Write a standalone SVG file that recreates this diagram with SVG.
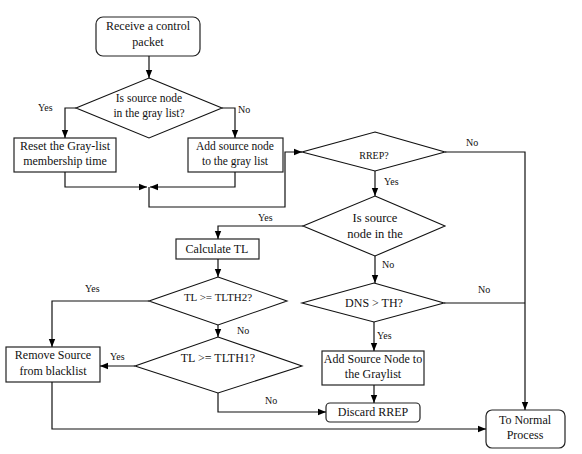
<svg xmlns="http://www.w3.org/2000/svg" width="582" height="454" viewBox="0 0 582 454">
<style>
.bg{fill:#fff}
.box{fill:#fff;stroke:#222;stroke-width:1.2}
.dia{fill:#fff;stroke:#111;stroke-width:1.1}
.t{font-family:"Liberation Serif",serif;font-size:12px;fill:#111;text-anchor:middle}
.s{font-size:11.5px}
.lbl{font-family:"Liberation Serif",serif;font-size:10px;fill:#111}
.c path{fill:none;stroke:#111;stroke-width:1.2}
</style>
<defs>
<marker id="ah" viewBox="0 0 10 10" refX="10" refY="5" markerWidth="8" markerHeight="8" markerUnits="userSpaceOnUse" orient="auto">
<path d="M0,1 L10,5 L0,9 z" fill="#000"/>
</marker>
</defs>
<rect class="bg" x="0" y="0" width="582" height="454"/>
<g id="n1"><rect class="box" x="96" y="17" width="104" height="39" rx="7"/><text class="t" x="148" y="30">Receive a control</text><text class="t" x="148" y="46">packet</text></g>
<g id="d1"><polygon class="dia" points="149,78 222,108 149,138 76,108"/><text class="t s" x="149" y="102">Is source node</text><text class="t s" x="149" y="117">in the gray list?</text></g>
<g id="n2"><rect class="box" x="14" y="138" width="102" height="34"/><text class="t" x="65" y="150">Reset the Gray-list</text><text class="t" x="65" y="165">membership time</text></g>
<g id="n3"><rect class="box" x="188" y="138" width="95" height="34"/><text class="t s" x="235" y="150">Add source node</text><text class="t s" x="235" y="165">to the gray list</text></g>
<g id="d2"><polygon class="dia" points="375,132 445,152 375,171 302,152"/><text class="t" style="font-size:10px" x="374" y="159">RREP?</text></g>
<g id="d3"><polygon class="dia" points="375,196 445,226 375,256 303,226"/><text class="t" style="font-size:12.5px" x="375" y="222">Is source</text><text class="t" style="font-size:12.5px" x="375" y="238">node in the</text></g>
<g id="n4"><rect class="box" x="176" y="239" width="83" height="20"/><text class="t" x="217" y="253">Calculate TL</text></g>
<g id="d4"><polygon class="dia" points="218,277 287,301 218,325 149,301"/><text class="t" style="font-size:11px" x="218" y="301">TL &gt;= TLTH2?</text></g>
<g id="d5"><polygon class="dia" points="218,337 302,366 218,393 135,366"/><text class="t" x="218" y="362">TL &gt;= TLTH1?</text></g>
<g id="n5"><rect class="box" x="6" y="347" width="94" height="35"/><text class="t" x="53" y="359">Remove Source</text><text class="t" x="53" y="375">from blacklist</text></g>
<g id="d6"><polygon class="dia" points="374,283 444,303 374,322 302,303"/><text class="t" x="374" y="307">DNS &gt; TH?</text></g>
<g id="n6"><rect class="box" x="322" y="351" width="102" height="34"/><text class="t" x="373" y="363">Add Source Node to</text><text class="t" x="373" y="378">the Graylist</text></g>
<g id="n7"><rect class="box" x="326" y="403" width="94" height="19" rx="4"/><text class="t" x="373" y="416">Discard RREP</text></g>
<g id="n8"><rect class="box" x="486" y="410" width="79" height="38" rx="6"/><text class="t" x="525" y="424">To Normal</text><text class="t" x="525" y="439">Process</text></g>
<g id="connectors" class="c">
<path d="M149,56 V78" marker-end="url(#ah)"/>
<path d="M76,108 H65 V138" marker-end="url(#ah)"/>
<path d="M222,108 H235 V138" marker-end="url(#ah)"/>
<path d="M65,172 V187 H147" marker-end="url(#ah)"/>
<path d="M235,172 V187 H150" marker-end="url(#ah)"/>
<path d="M149,187 V207 H285 V152 H302" marker-end="url(#ah)"/>
<path d="M445,152 H525 V410" marker-end="url(#ah)"/>
<path d="M375,171 V196" marker-end="url(#ah)"/>
<path d="M303,226 H218 V239" marker-end="url(#ah)"/>
<path d="M375,256 V283" marker-end="url(#ah)"/>
<path d="M444,303 H525"/>
<path d="M374,322 V351" marker-end="url(#ah)"/>
<path d="M374,385 V403" marker-end="url(#ah)"/>
<path d="M218,259 V277" marker-end="url(#ah)"/>
<path d="M149,301 H52 V347" marker-end="url(#ah)"/>
<path d="M218,325 V337" marker-end="url(#ah)"/>
<path d="M135,366 H100" marker-end="url(#ah)"/>
<path d="M218,393 V412 H326" marker-end="url(#ah)"/>
<path d="M52,382 V429 H486" marker-end="url(#ah)"/>
</g>
<g id="labels">
<text class="lbl" x="38" y="111">Yes</text>
<text class="lbl" x="238" y="113">No</text>
<text class="lbl" x="466" y="146">No</text>
<text class="lbl" x="384" y="185">Yes</text>
<text class="lbl" x="258" y="221">Yes</text>
<text class="lbl" x="382" y="268">No</text>
<text class="lbl" x="478" y="293">No</text>
<text class="lbl" x="377" y="339">Yes</text>
<text class="lbl" x="85" y="292">Yes</text>
<text class="lbl" x="237" y="334">No</text>
<text class="lbl" x="110" y="360">Yes</text>
<text class="lbl" x="265" y="404">No</text>
</g>
</svg>
